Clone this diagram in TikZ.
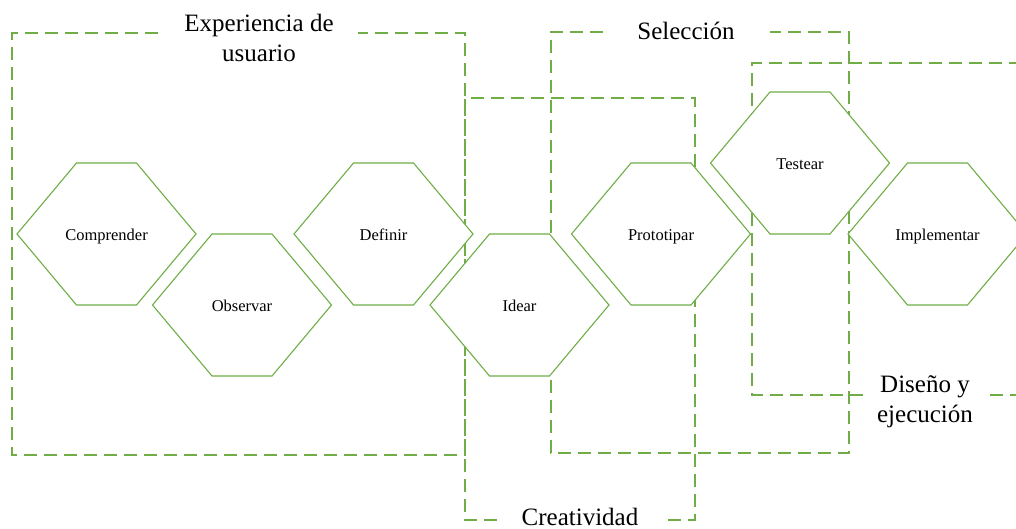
\documentclass[tikz,border=0pt]{standalone}
\usepackage{fontspec}
\setmainfont{Liberation Serif}
\definecolor{grn}{RGB}{112,173,71}
\begin{document}
\begin{tikzpicture}[x=1pt,y=-1pt,
  dsh/.style={draw=grn,line width=1.9pt,dash pattern=on 13pt off 7pt},
  hexline/.style={draw=grn,line width=1.1pt,fill=white,line join=miter},
  hextext/.style={font=\fontsize{16.5}{19}\selectfont,inner sep=0pt,anchor=base},
  lbl/.style={font=\fontsize{25}{30}\selectfont,align=center,inner sep=0pt,anchor=base},
  hexa/.pic={
    \draw[hexline] (-89.5,0) -- (-30,-71) -- (30,-71) -- (89.5,0) -- (30,71) -- (-30,71) -- cycle;
    \node[hextext] (-t) at (0,6.5) {#1};
  }]
\useasboundingbox (0,0) rectangle (1016,529);
\clip (0,0) rectangle (1016,529);
% group frames
\draw[dsh] (158,33) -- (12,33) -- (12,455) -- (465,455) -- (465,33) -- (358,33);
\draw[dsh] (497,520) -- (465,520) -- (465,98) -- (695,98) -- (695,520) -- (663,520);
\draw[dsh] (603,32) -- (551,32) -- (551,453) -- (849,453) -- (849,32) -- (770,32);
\draw[dsh] (863,395) -- (752,395) -- (752,63) -- (1040,63) -- (1040,395) -- (988,395);
% labels
\node[lbl] (lexp) at (259,62) {Experiencia de\\usuario};
\node[lbl] (lsel) at (686,40) {Selección};
\node[lbl] (lcre) at (580,525) {Creatividad};
\node[lbl] (ldis) at (925,422) {Diseño y\\ejecución};
% hexagons
\pic (comp) at (106.5,234) {hexa=Comprender};
\pic (obs) at (242,305) {hexa=Observar};
\pic (def) at (383.5,234) {hexa=Definir};
\pic (ide) at (519.5,305) {hexa=Idear};
\pic (pro) at (661,234) {hexa=Prototipar};
\pic (tes) at (800,163) {hexa=Testear};
\pic (imp) at (937.5,234) {hexa=Implementar};
\end{tikzpicture}
\end{document}
